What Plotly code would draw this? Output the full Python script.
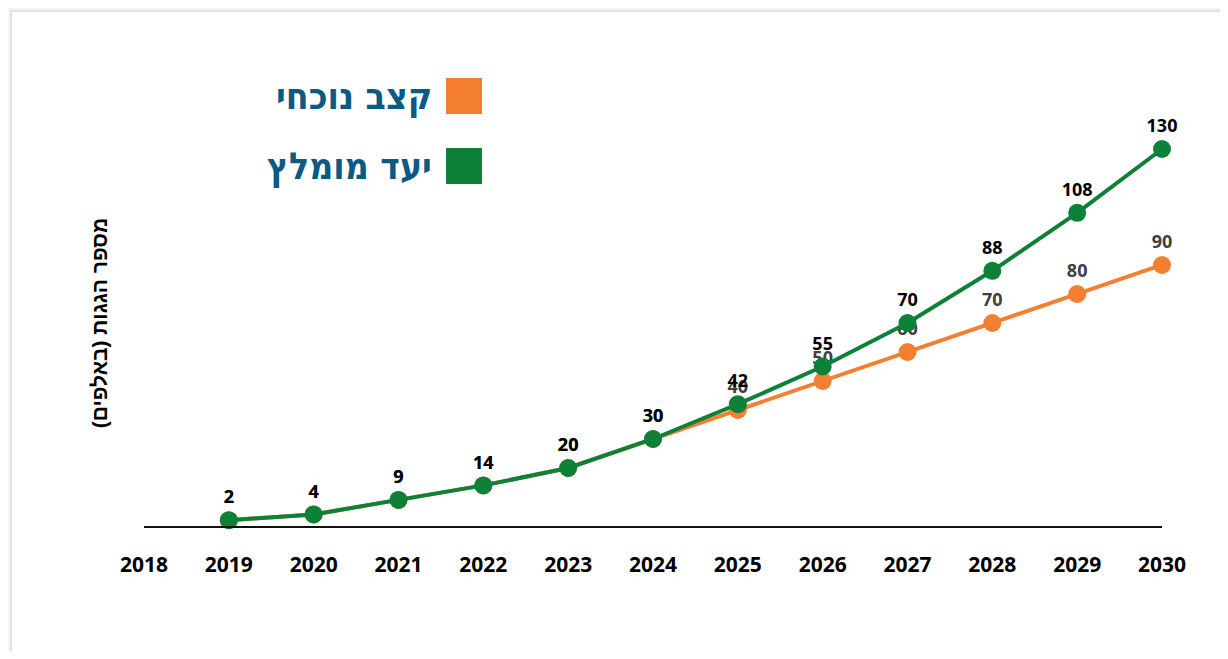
import plotly.graph_objects as go

years = [2019, 2020, 2021, 2022, 2023, 2024, 2025, 2026, 2027, 2028, 2029, 2030]
current_rate = [2, 4, 9, 14, 20, 30, 40, 50, 60, 70, 80, 90]
recommended = [2, 4, 9, 14, 20, 30, 42, 55, 70, 88, 108, 130]
tick_years = list(range(2018, 2031))
series_names = ["קצב נוכחי", "יעד מומלץ"]
y_title = "מספר הגגות (באלפים)"

ORANGE = "#F57F31"
GREEN = "#0E8139"
BLUE = "#0B5A84"

# page offset from the body margin
DX, DY = 8, 9
W, H = 1212, 643
L, R, T, B = 144 - DX, W - (1162 - DX), 121 - DY, H - (527 - DY)
PW, PH = W - L - R, H - T - B


def px(x):
    return (x - DX - L) / PW


def py(y):
    return (H - B - (y - DY)) / PH


fig = go.Figure()
fig.add_trace(go.Scatter(
    x=years, y=current_rate, mode="lines+markers+text", name=series_names[0],
    line=dict(color=ORANGE, width=4), marker=dict(color=ORANGE, size=18),
    text=[str(v) for v in current_rate], textposition="top center",
    textfont=dict(family="Open Sans", size=18, color="#404040", weight="bold"),
    cliponaxis=False, showlegend=False))
fig.add_trace(go.Scatter(
    x=years, y=recommended, mode="lines+markers+text", name=series_names[1],
    line=dict(color=GREEN, width=4), marker=dict(color=GREEN, size=18),
    text=[str(v) for v in recommended], textposition="top center",
    textfont=dict(family="Open Sans", size=18, color="#000000", weight="bold"),
    cliponaxis=False, showlegend=False))

shapes = []
# card shadow
for i in range(DX, 12):
    shapes.append(dict(type="rect", xref="paper", yref="paper",
                       x0=px(i), y0=py(H + 40), x1=px(W + 40), y1=py(i + 1),
                       fillcolor="rgba(0,0,0,0.03)", line=dict(width=0), layer="below"))
shapes.append(dict(type="rect", xref="paper", yref="paper",
                   x0=px(12), y0=py(H + 40), x1=px(W + 40), y1=py(13),
                   fillcolor="white", line=dict(width=0), layer="below"))
# legend swatches
for col, y0 in [(ORANGE, 79), (GREEN, 149)]:
    shapes.append(dict(type="rect", xref="paper", yref="paper",
                       x0=px(446), x1=px(482), y0=py(y0 + 36), y1=py(y0),
                       fillcolor=col, line=dict(width=0)))

annotations = []
for name, yc in [(series_names[0], 97), (series_names[1], 167)]:
    annotations.append(dict(text=name, xref="paper", yref="paper", x=px(434), y=py(yc),
                            xanchor="right", yanchor="middle", showarrow=False,
                            font=dict(family="DejaVu Sans Condensed", size=37, color=BLUE, weight="bold")))

fig.update_layout(
    width=W, height=H, margin=dict(l=L, r=R, t=T, b=B),
    paper_bgcolor="white", plot_bgcolor="rgba(0,0,0,0)",
    shapes=shapes, annotations=annotations,
    xaxis=dict(range=[2018, 2030], tickvals=tick_years, ticktext=[str(t) for t in tick_years],
               showgrid=False, zeroline=False, showline=True, linecolor="#111111", linewidth=2,
               ticks="", ticklabelstandoff=19,
               tickfont=dict(family="Open Sans", size=21, color="#000000", weight="bold")),
    yaxis=dict(range=[0, 140], showgrid=False, zeroline=False, showticklabels=False,
               showline=False,
               title=dict(text=y_title, standoff=29,
                          font=dict(family="Liberation Sans", size=21, color="#000000", weight="bold"))),
)

fig.write_html("out.html")
